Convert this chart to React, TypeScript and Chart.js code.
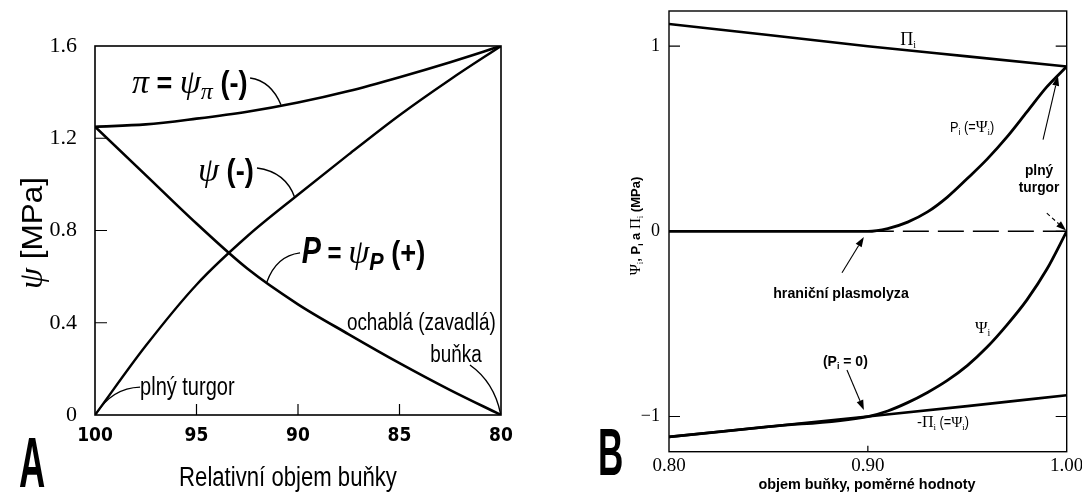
import React, { useEffect, useRef } from "react";
import { Chart, registerables } from "chart.js";
Chart.register(...registerables);

const SERIF = '"Liberation Serif", "DejaVu Serif", "Times New Roman", serif';
const SANS = '"Liberation Sans", Arial, Helvetica, sans-serif';
const NARROW = '"Liberation Sans Narrow", "DejaVu Sans Condensed", "Liberation Sans", sans-serif';

// ---------- Panel A data ----------
const volumeA = [100, 97.5, 95, 92.5, 90, 87.5, 85, 82.5, 80];
const osmoticA = [1.25, 1.26, 1.285, 1.315, 1.355, 1.405, 1.465, 1.53, 1.6];
const waterA = [0, 0.3, 0.565, 0.775, 0.955, 1.13, 1.3, 1.455, 1.6];
const turgorA = [1.25, 1.04, 0.83, 0.635, 0.48, 0.35, 0.225, 0.108, 0];
const xTicksA = [80, 85, 90, 95, 100];
const yTicksA = [0, 0.4, 0.8, 1.2, 1.6];

// ---------- Panel B data ----------
const volumePiB = [0.8, 0.85, 0.9, 0.95, 1.0];
const osmoticB = [1.12, 1.06, 1.0, 0.945, 0.89];
const negOsmoticB = [-1.11, -1.055, -1.0, -0.944, -0.885];
const volumeCurveB = [0.8, 0.85, 0.9, 0.91, 0.92, 0.93, 0.94, 0.95, 0.96, 0.97, 0.98, 0.99, 1.0];
const turgorB = [0, 0, 0, 0.015, 0.05, 0.105, 0.185, 0.285, 0.39, 0.51, 0.645, 0.78, 0.89];
const waterB = [-1.11, -1.055, -1.0, -0.97, -0.925, -0.87, -0.805, -0.725, -0.625, -0.505, -0.37, -0.205, 0];
const zeroLineX = [0.9, 1.0];
const zeroLineY = [0, 0];
const xTicksB = [0.8, 0.9, 1.0];
const yTicksB = [-1, 0, 1];

type Seg = { t: string; font: string; dy?: number; sx?: number };
type Pt = [number, number];
type Label = { at: Pt; align: "left" | "center"; segs: Seg[] };
type Leader = { from: Pt; ctrl: Pt; to: Pt };
type Arrow = { from: Pt; to: Pt; dash?: number[] };
type Decor = {
  id: string;
  frameWidth: number;
  yTicksLeft: number[];
  yTicksRight: number[];
  xTicksInner: number[];
  yTickLen: number;
  xTickLen: number;
  labels: Label[];
  leaders: Leader[];
  arrows: Arrow[];
  yTitle: { x: number; y: number; segs: Seg[] };
  xTitle: { x: number; y: number; segs: Seg[] };
  letter: { x: number; y: number; segs: Seg[] };
};

function segWidth(ctx: CanvasRenderingContext2D, s: Seg) {
  ctx.font = s.font;
  return ctx.measureText(s.t).width * (s.sx ?? 1);
}
function drawRich(ctx: CanvasRenderingContext2D, x: number, y: number, segs: Seg[], align: string) {
  let w = 0;
  for (const s of segs) w += segWidth(ctx, s);
  let cx = align === "center" ? x - w / 2 : align === "right" ? x - w : x;
  ctx.textAlign = "left";
  ctx.textBaseline = "alphabetic";
  for (const s of segs) {
    const sw = segWidth(ctx, s);
    ctx.save();
    ctx.translate(cx, y + (s.dy ?? 0));
    ctx.scale(s.sx ?? 1, 1);
    ctx.fillText(s.t, 0, 0);
    ctx.restore();
    cx += sw;
  }
}

function makeDecor(cfg: Decor) {
  return {
    id: cfg.id,
    afterDraw(chart: any) {
      const { ctx, chartArea: a, scales } = chart;
      const xs = scales.x;
      const ys = scales.y;
      const P = (p: Pt): Pt => [xs.getPixelForValue(p[0]), ys.getPixelForValue(p[1])];
      ctx.save();
      ctx.strokeStyle = "#000";
      ctx.fillStyle = "#000";
      ctx.lineWidth = cfg.frameWidth;
      ctx.strokeRect(a.left, a.top, a.right - a.left, a.bottom - a.top);
      ctx.lineWidth = 1.2;
      ctx.beginPath();
      for (const v of cfg.yTicksLeft) {
        const y = ys.getPixelForValue(v);
        ctx.moveTo(a.left, y);
        ctx.lineTo(a.left + cfg.yTickLen, y);
      }
      for (const v of cfg.yTicksRight) {
        const y = ys.getPixelForValue(v);
        ctx.moveTo(a.right, y);
        ctx.lineTo(a.right - cfg.yTickLen, y);
      }
      for (const v of cfg.xTicksInner) {
        const x = xs.getPixelForValue(v);
        ctx.moveTo(x, a.bottom);
        ctx.lineTo(x, a.bottom - cfg.xTickLen);
      }
      ctx.stroke();
      // leader curves
      ctx.lineWidth = 1.4;
      for (const l of cfg.leaders) {
        const p0 = P(l.from), p1 = P(l.ctrl), p2 = P(l.to);
        ctx.beginPath();
        ctx.moveTo(p0[0], p0[1]);
        ctx.quadraticCurveTo(p1[0], p1[1], p2[0], p2[1]);
        ctx.stroke();
      }
      // arrows
      for (const ar of cfg.arrows) {
        const p0 = P(ar.from), p1 = P(ar.to);
        const ang = Math.atan2(p1[1] - p0[1], p1[0] - p0[0]);
        const hl = 10, hw = 3.5;
        const bx = p1[0] - hl * Math.cos(ang), by = p1[1] - hl * Math.sin(ang);
        ctx.lineWidth = 1.1;
        ctx.setLineDash(ar.dash ?? []);
        ctx.beginPath();
        ctx.moveTo(p0[0], p0[1]);
        ctx.lineTo(bx, by);
        ctx.stroke();
        ctx.setLineDash([]);
        ctx.beginPath();
        ctx.moveTo(p1[0], p1[1]);
        ctx.lineTo(bx + hw * Math.sin(ang), by - hw * Math.cos(ang));
        ctx.lineTo(bx - hw * Math.sin(ang), by + hw * Math.cos(ang));
        ctx.closePath();
        ctx.fill();
      }
      // labels
      for (const lb of cfg.labels) {
        const p = P(lb.at);
        drawRich(ctx, p[0], p[1], lb.segs, lb.align);
      }
      // titles
      ctx.save();
      ctx.translate(cfg.yTitle.x, cfg.yTitle.y);
      ctx.rotate(-Math.PI / 2);
      drawRich(ctx, 0, 0, cfg.yTitle.segs, "center");
      ctx.restore();
      drawRich(ctx, cfg.xTitle.x, cfg.xTitle.y, cfg.xTitle.segs, "center");
      drawRich(ctx, cfg.letter.x, cfg.letter.y, cfg.letter.segs, "left");
      ctx.restore();
    },
  };
}

const lineStyle = (w: number) => ({
  borderColor: "#000",
  borderWidth: w,
  pointRadius: 0,
  fill: false,
  cubicInterpolationMode: "monotone" as const,
});

function configA(): any {
  const decor = makeDecor({
    id: "decorA",
    frameWidth: 1.6,
    yTicksLeft: [0.4, 0.8, 1.2],
    yTicksRight: [],
    xTicksInner: [95, 90, 85],
    yTickLen: 12,
    xTickLen: 11,
    labels: [
      {
        at: [98.18, 1.396],
        align: "left",
        segs: [
          { t: "π", font: `italic 34px ${SERIF}` },
          { t: " = ", font: `bold 30px ${SANS}`, sx: 0.9 },
          { t: "ψ", font: `italic 34px ${SERIF}` },
          { t: "π", font: `italic 24px ${SERIF}`, dy: 6 },
          { t: " (-)", font: `bold 32px ${SANS}`, sx: 0.85 },
        ],
      },
      {
        at: [94.93, 1.015],
        align: "left",
        segs: [
          { t: "ψ", font: `italic 34px ${SERIF}` },
          { t: " (-)", font: `bold 32px ${SANS}`, sx: 0.85 },
        ],
      },
      {
        at: [89.82, 0.659],
        align: "left",
        segs: [
          { t: "P", font: `italic bold 36px ${SANS}`, sx: 0.8 },
          { t: " = ", font: `bold 30px ${SANS}`, sx: 0.8 },
          { t: "ψ", font: `italic 34px ${SERIF}` },
          { t: "P", font: `italic bold 24px ${SANS}`, dy: 7, sx: 0.9 },
          { t: " (+)", font: `bold 32px ${SANS}`, sx: 0.85 },
        ],
      },
      { at: [87.59, 0.369], align: "left", segs: [{ t: "ochablá (zavadlá)", font: `23px ${SANS}`, sx: 0.82 }] },
      { at: [82.22, 0.231], align: "center", segs: [{ t: "buňka", font: `23px ${SANS}`, sx: 0.82 }] },
      { at: [97.78, 0.087], align: "left", segs: [{ t: "plný turgor", font: `25px ${SANS}`, sx: 0.8 }] },
    ],
    leaders: [
      { from: [92.36, 1.461], ctrl: [91.33, 1.448], to: [90.84, 1.345] },
      { from: [92.02, 1.071], ctrl: [90.59, 1.054], to: [90.15, 0.941] },
      { from: [89.9, 0.703], ctrl: [91.08, 0.69], to: [91.54, 0.575] },
      { from: [81.53, 0.217], ctrl: [80.34, 0.143], to: [80.02, 0.005] },
      { from: [97.78, 0.121], ctrl: [99.16, 0.117], to: [99.95, 0.004] },
    ],
    arrows: [],
    yTitle: {
      x: 42,
      y: 233,
      segs: [
        { t: "ψ", font: `italic 34px ${SERIF}` },
        { t: " [MPa]", font: `30px ${SANS}`, sx: 1.05 },
      ],
    },
    xTitle: { x: 288, y: 486, segs: [{ t: "Relativní objem buňky", font: `27px ${SANS}`, sx: 0.82 }] },
    letter: { x: 19, y: 487, segs: [{ t: "A", font: `bold 70px ${SANS}`, sx: 0.52 }] },
  });
  return {
    type: "line",
    data: {
      datasets: [
        { data: volumeA.map((x, i) => ({ x, y: osmoticA[i] })), ...lineStyle(2.6) },
        { data: volumeA.map((x, i) => ({ x, y: waterA[i] })), ...lineStyle(2.4) },
        { data: volumeA.map((x, i) => ({ x, y: turgorA[i] })), ...lineStyle(2.6) },
      ],
    },
    options: {
      responsive: false,
      devicePixelRatio: 1,
      animation: false,
      events: [],
      layout: { padding: { left: 0, right: 39, top: 46, bottom: 0 } },
      plugins: { legend: { display: false }, tooltip: { enabled: false } },
      scales: {
        x: {
          type: "linear",
          reverse: true,
          min: 80,
          max: 100,
          grid: { display: false, drawTicks: false },
          border: { display: false },
          afterBuildTicks: (s: any) => {
            s.ticks = xTicksA.map((v) => ({ value: v }));
          },
          afterFit: (s: any) => {
            s.height = 79;
            s.paddingLeft = 0;
            s.paddingRight = 0;
          },
          ticks: {
            color: "#000",
            padding: 10,
            maxRotation: 0,
            autoSkip: false,
            font: { family: NARROW, size: 19, weight: "bold" },
            callback: (v: any) => String(v),
          },
        },
        y: {
          type: "linear",
          min: 0,
          max: 1.6,
          grid: { display: false, drawTicks: false },
          border: { display: false },
          afterBuildTicks: (s: any) => {
            s.ticks = yTicksA.map((v) => ({ value: v }));
          },
          afterFit: (s: any) => {
            s.width = 95;
            s.paddingTop = 0;
            s.paddingBottom = 0;
          },
          ticks: {
            color: "#000",
            padding: 18,
            autoSkip: false,
            font: { family: SERIF, size: 22 },
            callback: (v: any) => (Number(v) === 0 ? "0" : Number(v).toFixed(1)),
          },
        },
      },
    },
    plugins: [decor],
  };
}

function configB(): any {
  const decor = makeDecor({
    id: "decorB",
    frameWidth: 1.4,
    yTicksLeft: [-1, 0, 1],
    yTicksRight: [-1, 0, 1],
    xTicksInner: [0.9],
    yTickLen: 11,
    xTickLen: 6,
    labels: [
      {
        at: [0.9202, 1.008],
        align: "center",
        segs: [
          { t: "Π", font: `18px ${SERIF}` },
          { t: "i", font: `10px ${SERIF}`, dy: 3 },
        ],
      },
      {
        at: [0.9413, 0.534],
        align: "left",
        segs: [
          { t: "P", font: `15px ${SANS}`, sx: 0.85 },
          { t: "i", font: `9px ${SANS}`, dy: 3 },
          { t: " (=", font: `15px ${SANS}`, sx: 0.85 },
          { t: "Ψ", font: `16px ${SERIF}` },
          { t: "i", font: `9px ${SERIF}`, dy: 3 },
          { t: ")", font: `15px ${SANS}`, sx: 0.85 },
        ],
      },
      { at: [0.9861, 0.305], align: "center", segs: [{ t: "plný", font: `bold 15px ${SANS}`, sx: 0.92 }] },
      { at: [0.9861, 0.215], align: "center", segs: [{ t: "turgor", font: `bold 15px ${SANS}`, sx: 0.92 }] },
      { at: [0.8865, -0.359], align: "center", segs: [{ t: "hraniční plasmolyza", font: `bold 14.2px ${SANS}` }] },
      {
        at: [0.8774, -0.727],
        align: "left",
        segs: [
          { t: "(P", font: `bold 14px ${SANS}` },
          { t: "i", font: `bold 9px ${SANS}`, dy: 3 },
          { t: " = 0)", font: `bold 14px ${SANS}` },
        ],
      },
      {
        at: [0.9539, -0.549],
        align: "left",
        segs: [
          { t: "Ψ", font: `17px ${SERIF}` },
          { t: "i", font: `10px ${SERIF}`, dy: 3 },
        ],
      },
      {
        at: [0.9247, -1.054],
        align: "left",
        segs: [
          { t: "-", font: `15px ${SANS}` },
          { t: "Π", font: `16px ${SERIF}` },
          { t: "i", font: `9px ${SERIF}`, dy: 3 },
          { t: " (=", font: `15px ${SANS}`, sx: 0.85 },
          { t: "Ψ", font: `15px ${SERIF}` },
          { t: "i", font: `9px ${SERIF}`, dy: 3 },
          { t: ")", font: `15px ${SANS}`, sx: 0.85 },
        ],
      },
    ],
    leaders: [],
    arrows: [
      { from: [0.9881, 0.495], to: [0.9956, 0.84] },
      { from: [0.99, 0.098], to: [0.9997, 0.005], dash: [4, 3] },
      { from: [0.887, -0.224], to: [0.898, -0.03] },
      { from: [0.8895, -0.749], to: [0.898, -0.965] },
    ],
    yTitle: {
      x: 100,
      y: 226,
      segs: [
        { t: "Ψ", font: `15px ${SERIF}` },
        { t: "i", font: `9px ${SERIF}`, dy: 3 },
        { t: ", P", font: `bold 13px ${SANS}` },
        { t: "i", font: `bold 8px ${SANS}`, dy: 3 },
        { t: " a ", font: `bold 13px ${SANS}` },
        { t: "Π", font: `15px ${SERIF}` },
        { t: "i", font: `9px ${SERIF}`, dy: 3 },
        { t: " (MPa)", font: `bold 13px ${SANS}` },
      ],
    },
    xTitle: { x: 327, y: 489, segs: [{ t: "objem buňky, poměrné hodnoty", font: `bold 14.4px ${SANS}` }] },
    letter: { x: 58, y: 475, segs: [{ t: "B", font: `bold 66px ${SANS}`, sx: 0.53 }] },
  });
  return {
    type: "line",
    data: {
      datasets: [
        { data: volumePiB.map((x, i) => ({ x, y: osmoticB[i] })), ...lineStyle(2.6) },
        { data: volumePiB.map((x, i) => ({ x, y: negOsmoticB[i] })), ...lineStyle(2.6) },
        { data: volumeCurveB.map((x, i) => ({ x, y: turgorB[i] })), ...lineStyle(2.8) },
        { data: volumeCurveB.map((x, i) => ({ x, y: waterB[i] })), ...lineStyle(2.8) },
        {
          data: zeroLineX.map((x, i) => ({ x, y: zeroLineY[i] })),
          borderColor: "#000",
          borderWidth: 1.5,
          borderDash: [26, 9],
          pointRadius: 0,
          fill: false,
        },
      ],
    },
    options: {
      responsive: false,
      devicePixelRatio: 1,
      animation: false,
      events: [],
      layout: { padding: { left: 0, right: 15.3, top: 11, bottom: 0 } },
      plugins: { legend: { display: false }, tooltip: { enabled: false } },
      scales: {
        x: {
          type: "linear",
          min: 0.8,
          max: 1.0,
          grid: { display: false, drawTicks: false },
          border: { display: false },
          afterBuildTicks: (s: any) => {
            s.ticks = xTicksB.map((v) => ({ value: v }));
          },
          afterFit: (s: any) => {
            s.height = 42.3;
            s.paddingLeft = 0;
            s.paddingRight = 0;
          },
          ticks: {
            color: "#000",
            padding: 3,
            maxRotation: 0,
            autoSkip: false,
            font: { family: SERIF, size: 19 },
            callback: (v: any) => Number(v).toFixed(2),
          },
        },
        y: {
          type: "linear",
          min: -1.19,
          max: 1.19,
          grid: { display: false, drawTicks: false },
          border: { display: false },
          afterBuildTicks: (s: any) => {
            s.ticks = yTicksB.map((v) => ({ value: v }));
          },
          afterFit: (s: any) => {
            s.width = 129;
            s.paddingTop = 0;
            s.paddingBottom = 0;
          },
          ticks: {
            color: "#000",
            padding: 9,
            autoSkip: false,
            font: { family: SERIF, size: 18 },
            callback: (v: any) => (Number(v) < 0 ? "\u2212" + Math.abs(Number(v)) : String(v)),
          },
        },
      },
    },
    plugins: [decor],
  };
}

export default function App() {
  const refA = useRef<HTMLCanvasElement>(null);
  const refB = useRef<HTMLCanvasElement>(null);
  useEffect(() => {
    document.body.style.margin = "0";
    const a = new Chart(refA.current as HTMLCanvasElement, configA());
    const b = new Chart(refB.current as HTMLCanvasElement, configB());
    return () => {
      a.destroy();
      b.destroy();
    };
  }, []);
  return (
    <div style={{ position: "relative", width: 1082, height: 494, background: "#fff", overflow: "hidden" }}>
      <canvas
        ref={refA}
        width={540}
        height={494}
        style={{ position: "absolute", left: 0, top: 0, width: 540, height: 494 }}
      />
      <canvas
        ref={refB}
        width={542}
        height={494}
        style={{ position: "absolute", left: 540, top: 0, width: 542, height: 494 }}
      />
    </div>
  );
}
